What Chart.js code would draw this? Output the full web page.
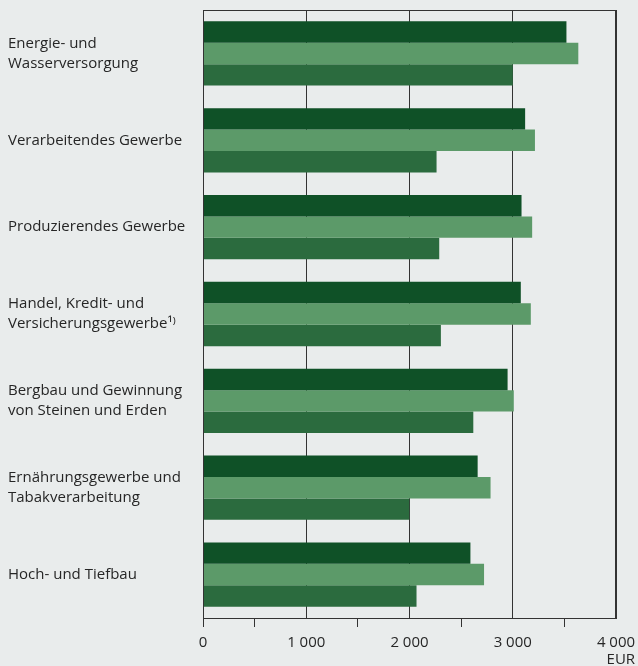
<!DOCTYPE html>
<html>
<head>
<meta charset="utf-8">
<script src="https://cdn.jsdelivr.net/npm/chart.js@4/dist/chart.umd.min.js"></script>
<style>
  html, body { margin: 0; padding: 0; background: #e9ecec; }
  #wrap { width: 638px; height: 666px; position: relative; }
</style>
</head>
<body>
<div id="wrap"><canvas id="myChart"></canvas></div>
<script>
// Wirtschaftszweige (von oben nach unten)
var branchen = [
  ['Energie- und', 'Wasserversorgung'],
  'Verarbeitendes Gewerbe',
  'Produzierendes Gewerbe',
  ['Handel, Kredit- und', 'Versicherungsgewerbe\u00b9\u207e'],
  ['Bergbau und Gewinnung', 'von Steinen und Erden'],
  ['Ernährungsgewerbe und', 'Tabakverarbeitung'],
  'Hoch- und Tiefbau'
];
// drei Reihen je Zweig, EUR
var reiheDunkel = [3520, 3120, 3085, 3078, 2950, 2660, 2590];
var reiheHell   = [3635, 3215, 3188, 3175, 3010, 2785, 2722];
var reiheMittel = [3000, 2262, 2288, 2304, 2618, 1998, 2068];
// Achse
var xMax = 4000;
var xSchritt = 500;
var einheit = 'EUR';

var linie = '#333333';
var schrift = '#262626';

var rahmen = {
  id: 'rahmen',
  afterDatasetsDraw: function(chart) {
    var a = chart.chartArea, ctx = chart.ctx;
    ctx.save();
    ctx.strokeStyle = linie;
    ctx.lineWidth = 1;
    ctx.strokeRect(a.left + 0.5, a.top + 0.5, a.right - a.left - 1, a.bottom - a.top);
    ctx.restore();
  },
  afterDraw: function(chart) {
    var ctx = chart.ctx, sx = chart.scales.x;
    ctx.save();
    ctx.font = '15px "Open Sans"';
    ctx.fillStyle = schrift;
    var w = ctx.measureText('4 000').width;
    ctx.textAlign = 'right';
    ctx.textBaseline = 'bottom';
    ctx.fillText(einheit, sx.getPixelForValue(xMax) + w / 2, chart.height + 1);
    ctx.restore();
  }
};

var ctx = document.getElementById('myChart').getContext('2d');
var chart = new Chart(ctx, {
  type: 'bar',
  data: {
    labels: branchen,
    datasets: [
      { label: 'Reihe 1', data: reiheDunkel, backgroundColor: '#0f5127' },
      { label: 'Reihe 2', data: reiheHell,   backgroundColor: '#5c9a69' },
      { label: 'Reihe 3', data: reiheMittel, backgroundColor: '#2b6b3e' }
    ]
  },
  options: {
    indexAxis: 'y',
    responsive: true,
    maintainAspectRatio: false,
    animation: false,
    categoryPercentage: 0.74,
    barPercentage: 1.0,
    layout: { padding: { top: 10, left: 8, right: 22, bottom: 0 } },
    plugins: { legend: { display: false }, tooltip: { enabled: false } },
    scales: {
      x: {
        min: 0, max: xMax,
        afterFit: function(s) { s.height = 48; s.paddingLeft = 0; s.paddingRight = 0; },
        border: { display: true, color: linie, width: 1 },
        grid: {
          color: function(c) { return c.tick && c.tick.value % 1000 === 0 ? linie : 'rgba(0,0,0,0)'; },
          tickColor: function(c) {
            var v = c.tick ? c.tick.value : 0;
            return (v === 0 || v % 1000 !== 0) ? linie : 'rgba(0,0,0,0)';
          },
          tickLength: 9,
          lineWidth: 1
        },
        ticks: {
          stepSize: xSchritt,
          autoSkip: false,
          maxRotation: 0,
          padding: 7,
          color: schrift,
          font: { family: '"Open Sans"', size: 15 },
          callback: function(v) {
            if (v % 1000 !== 0) return '';
            return v === 0 ? '0' : (v / 1000) + ' 000';
          }
        }
      },
      y: {
        afterFit: function(s) { s.width = 195; s.paddingTop = 0; s.paddingBottom = 0; },
        border: { display: true, color: linie, width: 1 },
        grid: { display: false },
        ticks: {
          crossAlign: 'far',
          color: schrift,
          font: { family: '"Open Sans"', size: 15, lineHeight: 1.35 }
        }
      }
    }
  },
  plugins: [rahmen]
});
</script>
</body>
</html>
